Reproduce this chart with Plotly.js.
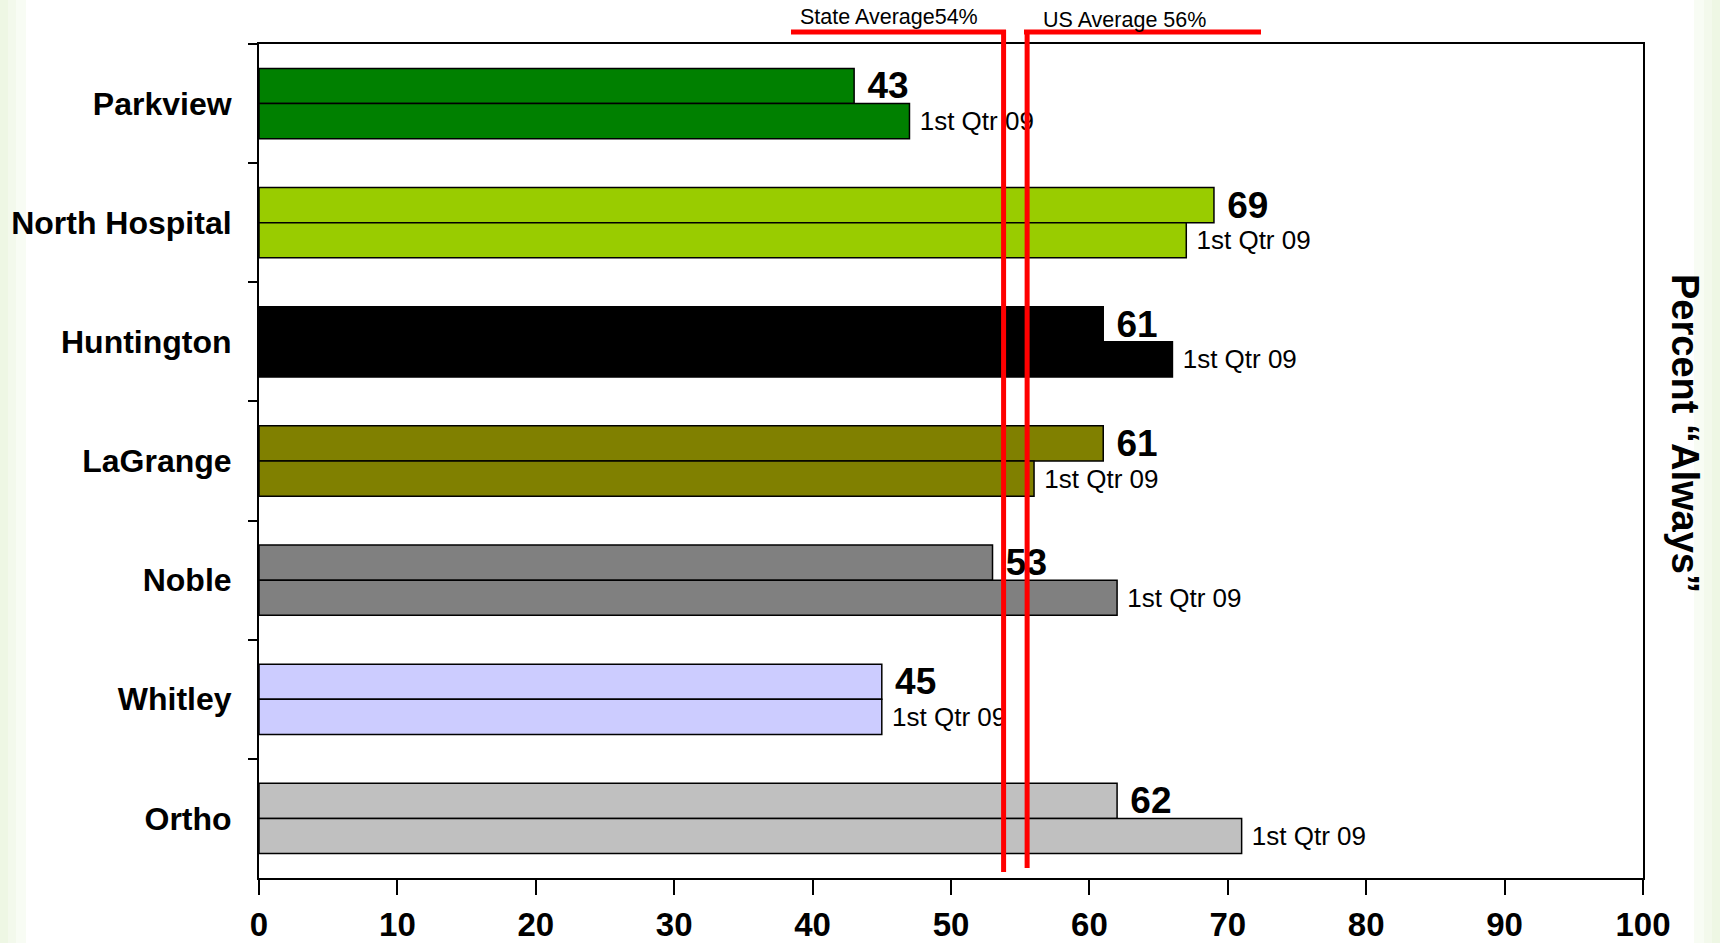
<!DOCTYPE html>
<html>
<head>
<meta charset="utf-8">
<script src="https://cdn.plot.ly/plotly-3.0.1.min.js"></script>
<style>html,body{margin:0;padding:0;background:#fff;}#chart{width:1720px;height:943px;}</style>
</head>
<body>
<div id="chart"></div>
<script>
// ---- data ----
const hospitals = ["Parkview", "North Hospital", "Huntington", "LaGrange", "Noble", "Whitley", "Ortho"];
const currentValues = [43, 69, 61, 61, 53, 45, 62];
const qtr1Values = [47, 67, 66, 56, 62, 45, 71];
const qtr1Label = "1st Qtr 09";
const barColors = ["#008000", "#99CC00", "#000000", "#808000", "#808080", "#CCCCFF", "#C0C0C0"];
const xTicks = [0, 10, 20, 30, 40, 50, 60, 70, 80, 90, 100];
const stateAvgText = "State Average54%";
const usAvgText = "US Average 56%";
const stateLineX = 53.8;
const usLineX = 55.5;
const axisTitle = "Percent \u201cAlways\u201d";

// ---- layout helpers ----
const W = 1720, H = 943;
const M = {l: 259, r: 77, t: 44, b: 65};
const plotW = W - M.l - M.r, plotH = H - M.t - M.b;
const px2x = px => (px - M.l) / plotW;          // pixel -> paper x
const py2y = py => 1 - (py - M.t) / plotH;      // pixel -> paper y
const FONT = "Liberation Sans, Arial, Helvetica, sans-serif";
const PAD = "\u00a0";

const traces = [
  {
    type: "bar", orientation: "h", y: hospitals, x: currentValues,
    marker: {color: barColors, line: {color: "#000", width: 1.5}},
    text: currentValues.map(v => PAD + v), textposition: "outside",
    textfont: {family: FONT, size: 37, color: "#000", weight: 700},
    constraintext: "none", cliponaxis: false, hoverinfo: "x+y", name: "Current"
  },
  {
    type: "bar", orientation: "h", y: hospitals, x: qtr1Values,
    marker: {color: barColors, line: {color: "#000", width: 1.5}},
    text: qtr1Values.map(() => PAD + qtr1Label), textposition: "outside",
    textfont: {family: FONT, size: 26, color: "#000"},
    constraintext: "none", cliponaxis: false, hoverinfo: "x+y", name: qtr1Label
  }
];

// pale green edge gradient
const shapes = [];
const edgeSteps = [["#eef7e4", 0, 8], ["#f3f9ec", 8, 16], ["#f8fcf4", 16, 26]];
edgeSteps.forEach(([c, a, b]) => {
  shapes.push({type: "rect", xref: "paper", yref: "paper", x0: px2x(a), x1: px2x(b), y0: py2y(H), y1: py2y(0), fillcolor: c, line: {width: 0}, layer: "below"});
  shapes.push({type: "rect", xref: "paper", yref: "paper", x0: px2x(W - b), x1: px2x(W - a), y0: py2y(H), y1: py2y(0), fillcolor: c, line: {width: 0}, layer: "below"});
});
const red = {color: "#FF0000", width: 5};
// State average marker
shapes.push({type: "line", xref: "paper", yref: "paper", x0: px2x(791), x1: px2x(1006), y0: py2y(32), y1: py2y(32), line: red, layer: "above"});
shapes.push({type: "line", xref: "x", yref: "paper", x0: stateLineX, x1: stateLineX, y0: py2y(30), y1: py2y(872), line: red, layer: "above"});
// US average marker
shapes.push({type: "line", xref: "paper", yref: "paper", x0: px2x(1024), x1: px2x(1261), y0: py2y(32), y1: py2y(32), line: red, layer: "above"});
shapes.push({type: "line", xref: "x", yref: "paper", x0: usLineX, x1: usLineX, y0: py2y(30), y1: py2y(868), line: red, layer: "above"});

const annotations = [
  {text: stateAvgText, xref: "paper", yref: "paper", x: px2x(798), y: py2y(17), xanchor: "left", yanchor: "middle", showarrow: false, font: {family: FONT, size: 21.5, color: "#000"}},
  {text: usAvgText, xref: "paper", yref: "paper", x: px2x(1041), y: py2y(20), xanchor: "left", yanchor: "middle", showarrow: false, font: {family: FONT, size: 21.5, color: "#000"}},
  {text: axisTitle, xref: "paper", yref: "paper", x: px2x(1685), y: py2y(433), xanchor: "center", yanchor: "middle", textangle: 90, showarrow: false, font: {family: FONT, size: 38, color: "#000", weight: 700}}
];

const layout = {
  width: W, height: H,
  margin: M,
  paper_bgcolor: "#ffffff", plot_bgcolor: "rgba(0,0,0,0)",
  showlegend: false,
  barmode: "group", bargap: 0.41, bargroupgap: 0,
  xaxis: {
    range: [0, 100], tickvals: xTicks, ticktext: xTicks.map(String),
    showgrid: false, zeroline: false, showline: true, linecolor: "#000", linewidth: 2, mirror: true,
    ticks: "outside", ticklen: 15, tickwidth: 2, tickcolor: "#000",
    tickfont: {family: FONT, size: 33, color: "#000", weight: 700}, ticklabelstandoff: 1,
    fixedrange: true
  },
  yaxis: {
    type: "category", autorange: "reversed",
    showgrid: false, zeroline: false, showline: true, linecolor: "#000", linewidth: 2, mirror: true,
    ticks: "outside", tickson: "boundaries", ticklen: 9, tickwidth: 2, tickcolor: "#000",
    tickfont: {family: FONT, size: 32, color: "#000", weight: 700}, ticklabelstandoff: 19,
    fixedrange: true
  },
  shapes: shapes,
  annotations: annotations
};

Plotly.newPlot("chart", traces, layout, {displayModeBar: false, staticPlot: true});
</script>
</body>
</html>
